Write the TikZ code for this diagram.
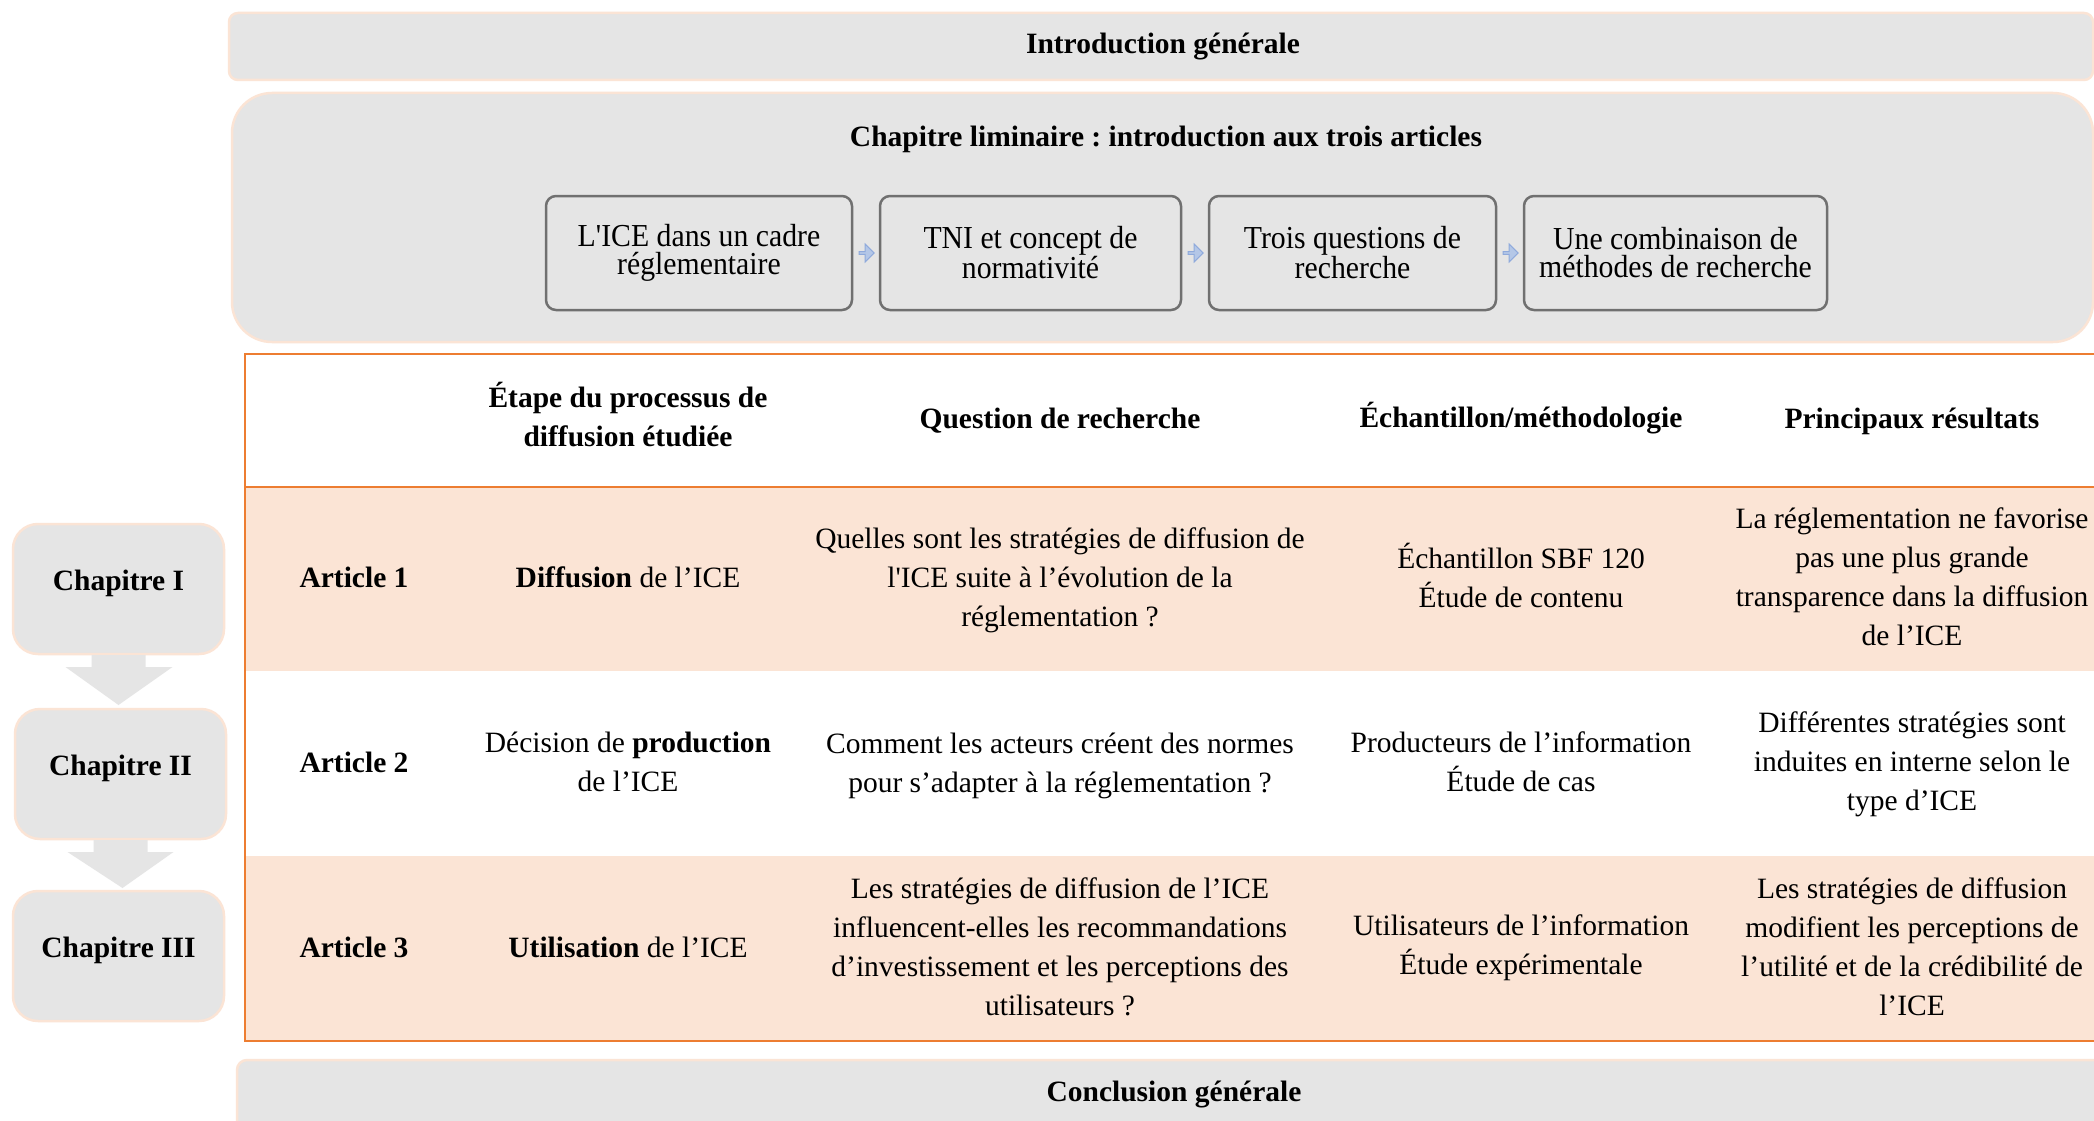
\documentclass[tikz,border=0pt]{standalone}
\usepackage{fontspec}
\setmainfont{Liberation Serif}
\newfontfamily\condfont[FakeStretch=0.93, Ligatures=TeXOff]{Liberation Serif}
\newfontfamily\plainq[Ligatures=TeXOff]{Liberation Serif}
\frenchspacing
\usetikzlibrary{shapes.arrows,calc}
\definecolor{boxgray}{HTML}{E5E5E5}
\definecolor{peach}{HTML}{FBE4D5}
\definecolor{orangeline}{HTML}{ED7D31}
\definecolor{rowfill}{HTML}{FBE4D5}
\definecolor{innerborder}{HTML}{707070}
\definecolor{arrowblue}{HTML}{B4C7E7}
\definecolor{arrowblueline}{HTML}{8FAADC}
\definecolor{chaparrow}{HTML}{E5E5E5}
\begin{document}
\begin{tikzpicture}[x=1pt,y=-1pt,
  every node/.style={inner sep=0pt, outer sep=0pt},
  txt/.style={font=\fontsize{29.5}{39}\selectfont, align=center},
  btxt/.style={font=\fontsize{29.5}{39}\selectfont\bfseries, align=center},
  graybar/.style={draw=peach, line width=2.5pt, fill=boxgray, anchor=north west},
  innerbox/.style={draw=innerborder, line width=2.5pt, fill=boxgray, rounded corners=10pt,
    anchor=north west, align=center, minimum height=114pt, font=\condfont\fontsize{32}{28}\selectfont},
  smallarr/.style={single arrow, single arrow head extend=3pt, minimum height=15pt,
    minimum width=18pt, fill=arrowblue, draw=arrowblueline, line width=1pt},
  chapbox/.style={draw=peach, line width=2.5pt, fill=boxgray, rounded corners=25pt,
    anchor=north west, minimum width=211pt, minimum height=130pt},
  chaptxt/.style={font=\fontsize{29.5}{39}\selectfont\bfseries},
]
\useasboundingbox (0,0) rectangle (2094,1121);
\clip (0,0) rectangle (2094,1121);
\fill[white] (0,0) rectangle (2094,1121);

% Introduction generale
\node[graybar, rounded corners=9pt, minimum width=1864pt, minimum height=67pt] (intro) at (229,13) {};
\node[btxt] (introtxt) at (1163,47) {Introduction générale};

% Chapitre liminaire
\node[graybar, rounded corners=40pt, minimum width=1861pt, minimum height=249pt] (limin) at (232,93) {};
\node[btxt] (limtitle) at (1166,139) {Chapitre liminaire : introduction aux trois articles};

\node[innerbox, minimum width=306pt] (b1) at (546,196) {L'ICE dans un cadre\\réglementaire};
\node[innerbox, minimum width=301pt] (b2) at (880,196) {TNI et concept de\\normativité};
\node[innerbox, minimum width=287pt] (b3) at (1209,196) {Trois questions de\\recherche};
\node[innerbox, minimum width=303pt] (b4) at (1524,196) {Une combinaison de\\méthodes de recherche};

\node[smallarr] (a1) at ($(b1.east)!0.5!(b2.west)$) {};
\node[smallarr] (a2) at ($(b2.east)!0.5!(b3.west)$) {};
\node[smallarr] (a3) at ($(b3.east)!0.5!(b4.west)$) {};

% Table
\coordinate (tl) at (245,354);
\fill[rowfill] (245,487) rectangle (2110,671);
\fill[rowfill] (245,856) rectangle (2110,1041);
\draw[orangeline, line width=2pt] (2110,354) -- (tl) -- (245,1041) -- (2110,1041);
\draw[orangeline, line width=2pt] (245,487) -- (2110,487);

\node[btxt] (h2) at (628,415) {Étape du processus de\\diffusion étudiée};
\node[btxt] (h3) at (1060,421) {Question de recherche};
\node[btxt] (h4) at (1521,418) {Échantillon/méthodologie};
\node[btxt] (h5) at (1912,421) {Principaux résultats};

\node[btxt] (r1c1) at (354,577) {Article 1};
\node[txt] (r1c2) at (628,577) {\textbf{Diffusion} de l’ICE};
\node[txt] (r1c3) at (1060,580) {Quelles sont les stratégies de diffusion de\\l{\plainq '}ICE suite à l’évolution de la\\réglementation ?};
\node[txt] (r1c4) at (1521,575) {Échantillon SBF 120\\Étude de contenu};
\node[txt] (r1c5) at (1912,577) {La réglementation ne favorise\\pas une plus grande\\transparence dans la diffusion\\de l’ICE};

\node[btxt] (r2c1) at (354,762) {Article 2};
\node[txt] (r2c2) at (628,762) {Décision de \textbf{production}\\de l’ICE};
\node[txt] (r2c3) at (1060,766) {Comment les acteurs créent des normes\\pour s’adapter à la réglementation ?};
\node[txt] (r2c4) at (1521,762) {Producteurs de l’information\\Étude de cas};
\node[txt] (r2c5) at (1912,764) {Différentes stratégies sont\\induites en interne selon le\\type d’ICE};

\node[btxt] (r3c1) at (354,947) {Article 3};
\node[txt] (r3c2) at (628,947) {\textbf{Utilisation} de l’ICE};
\node[txt] (r3c3) at (1060,947) {Les stratégies de diffusion de l’ICE\\influencent-elles les recommandations\\d’investissement et les perceptions des\\utilisateurs ?};
\node[txt] (r3c4) at (1521,948) {Utilisateurs de l’information\\Étude expérimentale};
\node[txt] (r3c5) at (1912,947) {Les stratégies de diffusion\\modifient les perceptions de\\l’utilité et de la crédibilité de\\l’ICE};

% Conclusion
\node[graybar, rounded corners=10pt, minimum width=1870pt, minimum height=80pt] (concl) at (237,1060) {};
\node[btxt] (concltxt) at (1174,1094) {Conclusion générale};

% Chapters
\node[chapbox] (c1) at (13,524) {};
\node[chapbox] (c2) at (15,709) {};
\node[chapbox] (c3) at (13,891) {};
\node[chaptxt] (c1t) at ($(c1.center)+(0,-6)$) {Chapitre I};
\node[chaptxt] (c2t) at ($(c2.center)+(0,-6)$) {Chapitre II};
\node[chaptxt] (c3t) at ($(c3.center)+(0,-6)$) {Chapitre III};

\fill[chaparrow] ($(c1.south)+(-27,1)$) -- ($(c1.south)+(27,1)$) -- ($(c1.south)+(27,13)$)
  -- ($(c1.south)+(54,13)$) -- ($(c2.north)+(-2,-4)$) -- ($(c1.south)+(-53,13)$)
  -- ($(c1.south)+(-27,13)$) -- cycle;
\fill[chaparrow] ($(c2.south)+(-27,1)$) -- ($(c2.south)+(27,1)$) -- ($(c2.south)+(27,13)$)
  -- ($(c2.south)+(53,13)$) -- ($(c3.north)+(4,-3)$) -- ($(c2.south)+(-53,13)$)
  -- ($(c2.south)+(-27,13)$) -- cycle;
\end{tikzpicture}
\end{document}
